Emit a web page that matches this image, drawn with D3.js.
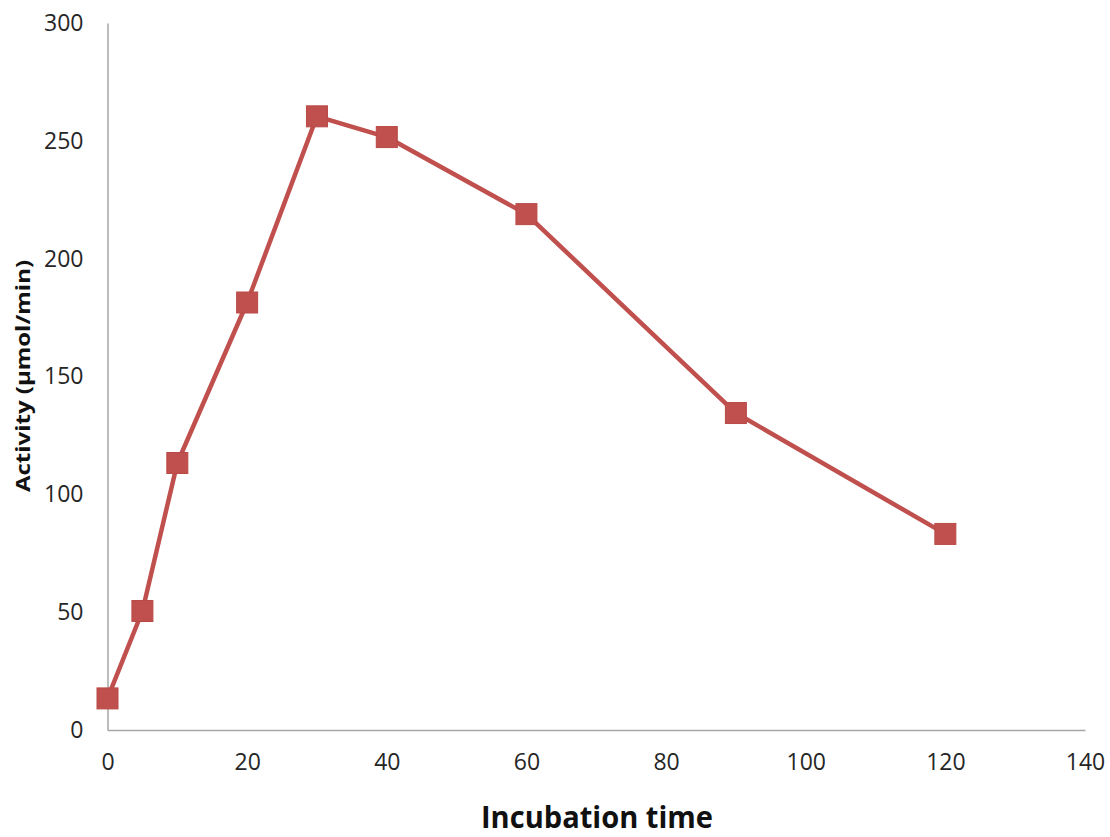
<!DOCTYPE html>
<html>
<head>
<meta charset="utf-8">
<script src="https://cdn.jsdelivr.net/npm/d3@7"></script>
<style>
  html, body { margin: 0; padding: 0; background: #fff; }
  svg { display: block; }
  .tick text { font-family: "Open Sans", "Noto Sans", sans-serif; fill: #262626; }
</style>
</head>
<body>
<svg id="chart" width="1110" height="837"></svg>
<script>
// Enzyme activity over incubation time
const incubationTime = [0, 5, 10, 20, 30, 40, 60, 90, 120];
const activity = [13.4, 50.5, 113.3, 181.4, 260.4, 251.6, 218.9, 134.5, 83.2];
const xTicks = [0, 20, 40, 60, 80, 100, 120, 140];
const yTicks = [0, 50, 100, 150, 200, 250, 300];
const xTitle = "Incubation time";
const yTitle = "Activity (µmol/min)";

const svg = d3.select("#chart");
const margin = { left: 107.5, right: 25, top: 23, bottom: 107 };
const W = 1110, H = 837;

const x = d3.scaleLinear().domain([0, 140]).range([margin.left, W - margin.right]);
const y = d3.scaleLinear().domain([0, 300]).range([H - margin.bottom, margin.top]);

const axisColor = "#a6a6a6";
const seriesColor = "#c0504d";

// y axis
const yAxis = svg.append("g")
  .attr("transform", `translate(${margin.left},0)`)
  .call(d3.axisLeft(y).tickValues(yTicks).tickSize(0).tickPadding(24));
yAxis.select(".domain").attr("stroke", axisColor).attr("stroke-width", 1.5);
yAxis.selectAll(".tick text").attr("font-size", 23);

// x axis
const xAxis = svg.append("g")
  .attr("transform", `translate(0,${y(0)})`)
  .call(d3.axisBottom(x).tickValues(xTicks).tickSize(0).tickPadding(24));
xAxis.select(".domain").attr("stroke", axisColor).attr("stroke-width", 1.5);
xAxis.selectAll(".tick text").attr("font-size", 23);

// axis titles
svg.append("text")
  .attr("x", 597).attr("y", 828)
  .attr("text-anchor", "middle")
  .attr("font-family", "'Open Sans', 'Noto Sans', sans-serif")
  .attr("font-weight", "bold")
  .attr("font-size", 30)
  .attr("fill", "#111")
  .attr("textLength", 232)
  .attr("lengthAdjust", "spacingAndGlyphs")
  .text(xTitle);

svg.append("text")
  .attr("transform", "translate(30,376) rotate(-90)")
  .attr("text-anchor", "middle")
  .attr("font-family", "'Open Sans', 'Noto Sans', sans-serif")
  .attr("font-weight", "bold")
  .attr("font-size", 19)
  .attr("fill", "#111")
  .attr("textLength", 232)
  .attr("lengthAdjust", "spacingAndGlyphs")
  .text(yTitle);

// series
const data = incubationTime.map((t, i) => ({ t, v: activity[i] }));

svg.append("path")
  .datum(data)
  .attr("fill", "none")
  .attr("stroke", seriesColor)
  .attr("stroke-width", 4.5)
  .attr("stroke-linejoin", "round")
  .attr("d", d3.line().x(d => x(d.t)).y(d => y(d.v)));

const size = 21;
svg.append("g").selectAll("rect")
  .data(data)
  .join("rect")
  .attr("x", d => x(d.t) - size / 2)
  .attr("y", d => y(d.v) - size / 2)
  .attr("width", size)
  .attr("height", size)
  .attr("fill", seriesColor)
  .attr("stroke", "#b94a47")
  .attr("stroke-width", 1);
</script>
</body>
</html>
